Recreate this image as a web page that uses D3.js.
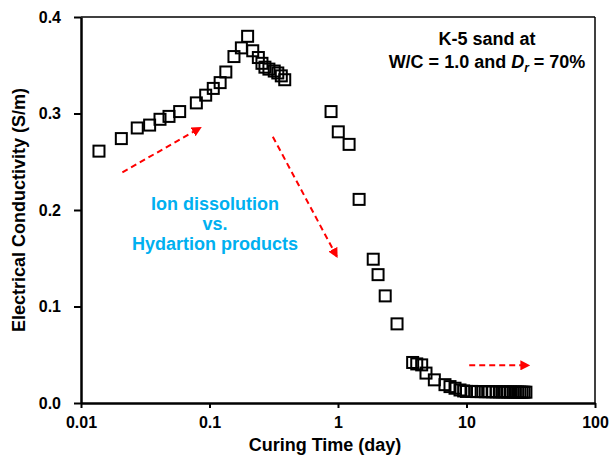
<!DOCTYPE html>
<html>
<head>
<meta charset="utf-8">
<script src="https://cdn.jsdelivr.net/npm/d3@7"></script>
<style>
  body { margin: 0; background: #fff; }
  svg { display: block; font-family: Arial, "Liberation Sans", sans-serif; font-weight: bold; }
</style>
</head>
<body>
<svg width="609" height="456"></svg>
<script>
// curing time (day) and electrical conductivity (S/m)
var time = [0.0138, 0.0206, 0.0274, 0.0342, 0.0412, 0.0484, 0.0586, 0.079, 0.0934, 0.107,
            0.121, 0.134, 0.155, 0.177, 0.198, 0.217, 0.240, 0.256, 0.270, 0.29, 0.319, 0.34,
            0.362, 0.385, 0.883, 1.005, 1.22, 1.46, 1.88, 2.05, 2.33, 2.88, 3.81, 4.10, 4.48,
            4.84, 5.62, 6.8, 7.44, 8.14, 8.9, 9.5,
            10, 11, 12, 13, 14, 15, 16, 17, 18, 19, 20, 21, 22, 23, 24, 25, 26, 27, 28, 29];
var conductivity = [0.261, 0.274, 0.285, 0.288, 0.294, 0.297, 0.302, 0.311, 0.319, 0.326,
                    0.332, 0.343, 0.359, 0.368, 0.380, 0.365, 0.358, 0.352, 0.348, 0.346, 0.344, 0.342,
                    0.339, 0.335, 0.302, 0.281, 0.268, 0.211, 0.149, 0.133, 0.111, 0.082, 0.042, 0.0405, 0.0395,
                    0.031, 0.024, 0.019, 0.017, 0.0153, 0.0135, 0.0125,
                    0.012, 0.012, 0.0118, 0.0118, 0.0117, 0.0117, 0.0116, 0.0116, 0.0115, 0.0115,
                    0.0115, 0.0114, 0.0114, 0.0114, 0.0113, 0.0113, 0.0113, 0.0112, 0.0112, 0.0112];

var xTicks = [0.01, 0.1, 1, 10, 100];
var xTickLabels = ["0.01", "0.1", "1", "10", "100"];
var yTicks = [0, 0.1, 0.2, 0.3, 0.4];

// arrows: [x1, y1, x2, y2] in data units
var arrows = [
  [0.0210, 0.239, 0.0844, 0.285],
  [0.311, 0.276, 0.977, 0.152],
  [10.5, 0.039, 30.3, 0.039]
];
var noteLines = ["Ion dissolution", "vs.", "Hydartion products"];

var margin = {top: 17, right: 14, bottom: 53, left: 81};
var width = 609 - margin.left - margin.right;
var height = 456 - margin.top - margin.bottom;

var svg = d3.select("svg");
var g = svg.append("g").attr("transform", "translate(" + margin.left + "," + margin.top + ")");

var x = d3.scaleLog().domain([0.01, 100]).range([0, width]);
var y = d3.scaleLinear().domain([0, 0.4]).range([height, 0]);

// frame top + right
g.append("line").attr("x1", 0).attr("x2", width).attr("y1", 0).attr("y2", 0)
  .attr("stroke", "#000").attr("stroke-width", 1.5);
g.append("line").attr("x1", width).attr("x2", width).attr("y1", 0).attr("y2", height)
  .attr("stroke", "#000").attr("stroke-width", 1.5);

var xAxis = g.append("g").attr("transform", "translate(0," + height + ")")
  .call(d3.axisBottom(x).tickValues(xTicks).tickFormat(function (d, i) { return xTickLabels[i]; })
    .tickSize(5).tickSizeOuter(0).tickPadding(9));
var yAxis = g.append("g")
  .call(d3.axisLeft(y).tickValues(yTicks).tickFormat(d3.format(".1f"))
    .tickSize(7).tickSizeOuter(0).tickPadding(13));

[xAxis, yAxis].forEach(function (a) {
  a.select(".domain").attr("stroke-width", 2.5);
  a.selectAll(".tick line").attr("stroke-width", 2);
  a.selectAll(".tick text").attr("font-size", 16).attr("font-weight", "bold")
    .attr("font-family", "Arial, 'Liberation Sans', sans-serif").attr("fill", "#000");
});

// data squares
var s = 11;
g.selectAll("rect.pt").data(time).enter().append("rect")
  .attr("class", "pt")
  .attr("x", function (d) { return x(d) - s / 2; })
  .attr("y", function (d, i) { return y(conductivity[i]) - s / 2; })
  .attr("width", s).attr("height", s)
  .attr("fill", "none").attr("stroke", "#000").attr("stroke-width", 2);

// red dashed arrows
svg.append("defs").append("marker")
  .attr("id", "head").attr("viewBox", "0 0 10 10").attr("refX", 8).attr("refY", 5)
  .attr("markerWidth", 5).attr("markerHeight", 5).attr("orient", "auto")
  .append("path").attr("d", "M0,0L10,5L0,10Z").attr("fill", "#ff0000");

g.selectAll("line.arrow").data(arrows).enter().append("line")
  .attr("class", "arrow")
  .attr("x1", function (d) { return x(d[0]); })
  .attr("y1", function (d) { return y(d[1]); })
  .attr("x2", function (d) { return x(d[2]); })
  .attr("y2", function (d) { return y(d[3]); })
  .attr("stroke", "#ff0000").attr("stroke-width", 2)
  .attr("stroke-dasharray", "6,4")
  .attr("marker-end", "url(#head)");

// blue note
svg.selectAll("text.note").data(noteLines).enter().append("text")
  .attr("class", "note")
  .attr("x", 215).attr("y", function (d, i) { return 210 + i * 20; })
  .attr("text-anchor", "middle").attr("font-size", 18).attr("fill", "#00b0f0")
  .text(function (d) { return d; });

// sample label
svg.append("text").attr("x", 487).attr("y", 45).attr("text-anchor", "middle")
  .attr("font-size", 18).text("K-5 sand at");
var t2 = svg.append("text").attr("x", 487).attr("y", 68).attr("text-anchor", "middle")
  .attr("font-size", 18);
t2.append("tspan").text("W/C = 1.0 and ");
t2.append("tspan").attr("font-style", "italic").text("D");
t2.append("tspan").attr("font-style", "italic").attr("font-size", 12).attr("dy", 4).text("r");
t2.append("tspan").attr("dy", -4).text(" = 70%");

// axis titles
svg.append("text").attr("x", 325).attr("y", 451).attr("text-anchor", "middle")
  .attr("font-size", 18).text("Curing Time (day)");
svg.append("text").attr("transform", "translate(25," + (margin.top + height / 2) + ") rotate(-90)")
  .attr("text-anchor", "middle").attr("font-size", 18).text("Electrical Conductivity (S/m)");
</script>
</body>
</html>
